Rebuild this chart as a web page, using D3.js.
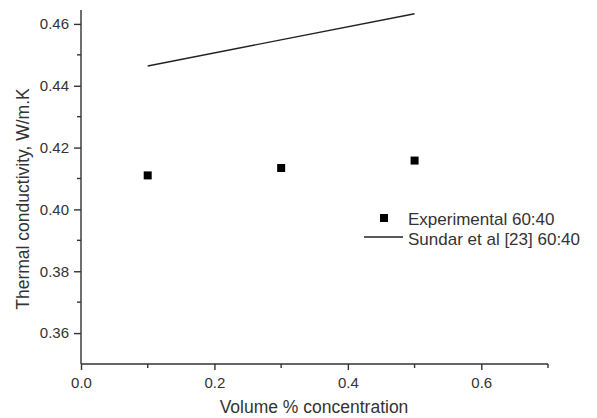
<!DOCTYPE html>
<html>
<head>
<meta charset="utf-8">
<script src="https://cdn.jsdelivr.net/npm/d3@7"></script>
<style>
  body { margin: 0; background: #fff; }
  text { font-family: "Liberation Sans", Arial, sans-serif; fill: #333; }
</style>
</head>
<body>
<svg width="597" height="418"></svg>
<script>
var expX = [0.1, 0.3, 0.5];
var expY = [0.4110, 0.4134, 0.4158];
var sundarX = [0.1, 0.5];
var sundarY = [0.4464, 0.4633];
var xTicks = [0.0, 0.2, 0.4, 0.6];
var yTicks = [0.36, 0.38, 0.40, 0.42, 0.44, 0.46];
var seriesNames = ["Experimental 60:40", "Sundar et al [23] 60:40"];

var svg = d3.select("svg");

var x = d3.scaleLinear().domain([0, 0.7]).range([81, 548]);
var y = d3.scaleLinear().domain([0.35, 0.4645]).range([364, 10]);

var axisColor = "#333";

// x axis
var xAxis = d3.axisBottom(x)
  .tickValues(xTicks)
  .tickFormat(d3.format(".1f"))
  .tickSize(6)
  .tickPadding(7);
var gx = svg.append("g").attr("transform", "translate(0,364)").call(xAxis);
gx.selectAll("text").style("font-size", "15px");
gx.selectAll("line,path").attr("stroke", axisColor).attr("stroke-width", 1.4);
gx.select(".domain").attr("d", "M" + x(0) + ",0H" + x(0.7));
gx.selectAll(".minor")
  .data([0.1, 0.3, 0.5, 0.7])
  .enter().append("line")
  .attr("x1", function (d) { return x(d); })
  .attr("x2", function (d) { return x(d); })
  .attr("y1", 0).attr("y2", 4)
  .attr("stroke", axisColor).attr("stroke-width", 1.4);

// y axis
var yAxis = d3.axisLeft(y)
  .tickValues(yTicks)
  .tickFormat(d3.format(".2f"))
  .tickSize(7)
  .tickPadding(5);
var gy = svg.append("g").attr("transform", "translate(81,0)").call(yAxis);
gy.selectAll("text").style("font-size", "15px");
gy.selectAll("line,path").attr("stroke", axisColor).attr("stroke-width", 1.4);
gy.select(".domain").attr("d", "M0," + y(0.35) + "V" + y(0.4645));
gy.selectAll(".minor")
  .data([0.37, 0.39, 0.41, 0.43, 0.45])
  .enter().append("line")
  .attr("y1", function (d) { return y(d); })
  .attr("y2", function (d) { return y(d); })
  .attr("x1", 0).attr("x2", -4)
  .attr("stroke", axisColor).attr("stroke-width", 1.4);

// axis titles
svg.append("text")
  .attr("x", 314).attr("y", 413)
  .attr("text-anchor", "middle")
  .style("font-size", "17.5px")
  .text("Volume % concentration");

svg.append("text")
  .attr("transform", "translate(29,199) rotate(-90)")
  .attr("text-anchor", "middle")
  .style("font-size", "17.5px")
  .text("Thermal conductivity, W/m.K");

// Sundar line
var line = d3.line()
  .x(function (d) { return x(d[0]); })
  .y(function (d) { return y(d[1]); });
svg.append("path")
  .datum(d3.zip(sundarX, sundarY))
  .attr("d", line)
  .attr("fill", "none")
  .attr("stroke", "#222")
  .attr("stroke-width", 1.4);

// experimental points
svg.selectAll("rect.pt")
  .data(d3.zip(expX, expY))
  .enter().append("rect")
  .attr("class", "pt")
  .attr("x", function (d) { return x(d[0]) - 4; })
  .attr("y", function (d) { return y(d[1]) - 4; })
  .attr("width", 8).attr("height", 8)
  .attr("fill", "#000");

// legend
var legend = svg.append("g");
legend.append("rect")
  .attr("x", 380).attr("y", 214)
  .attr("width", 8).attr("height", 8)
  .attr("fill", "#000");
legend.append("text")
  .attr("x", 408).attr("y", 225)
  .style("font-size", "17px")
  .text(seriesNames[0]);
legend.append("line")
  .attr("x1", 364).attr("x2", 403)
  .attr("y1", 237).attr("y2", 237)
  .attr("stroke", "#222").attr("stroke-width", 1.4);
legend.append("text")
  .attr("x", 408).attr("y", 245)
  .style("font-size", "17px")
  .text(seriesNames[1]);
</script>
</body>
</html>
